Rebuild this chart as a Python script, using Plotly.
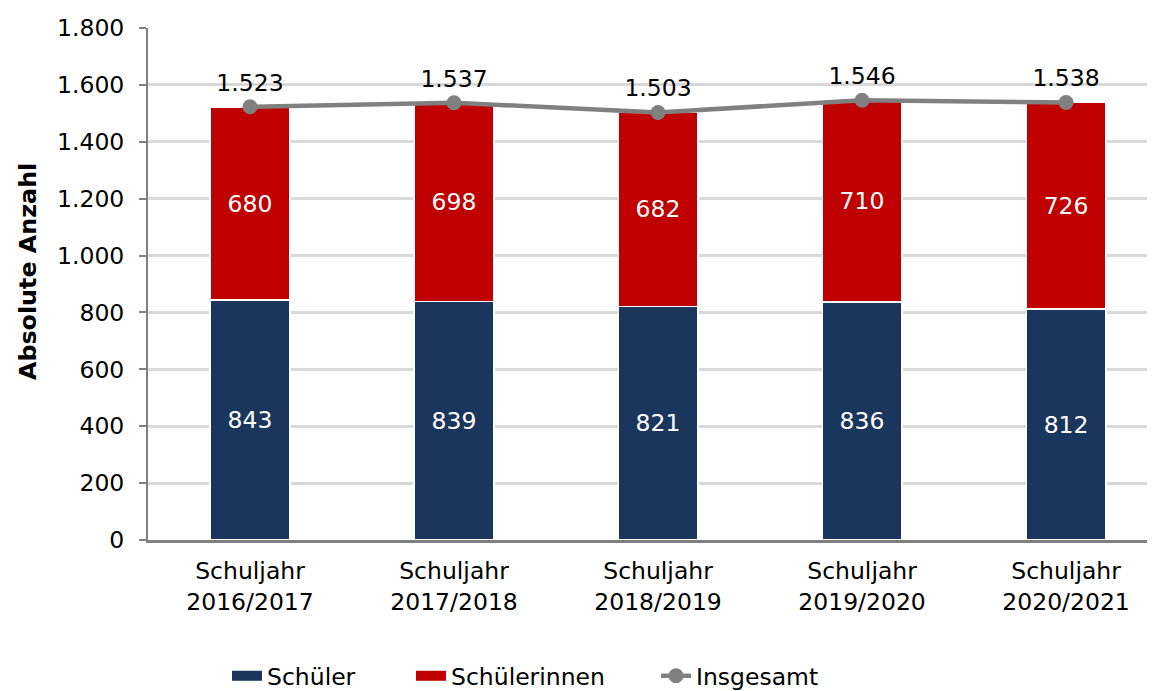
import plotly.graph_objects as go

categories = ["Schuljahr<br>2016/2017", "Schuljahr<br>2017/2018", "Schuljahr<br>2018/2019",
              "Schuljahr<br>2019/2020", "Schuljahr<br>2020/2021"]
schueler = [843, 839, 821, 836, 812]
schuelerinnen = [680, 698, 682, 710, 726]
insgesamt = [1523, 1537, 1503, 1546, 1538]
y_ticks = [0, 200, 400, 600, 800, 1000, 1200, 1400, 1600, 1800]
y_title = "Absolute Anzahl"

FONT = "DejaVu Sans, Verdana, sans-serif"
FS = 23.5
NAVY = "#1B365D"
RED = "#C00000"
GRAY = "#808080"

fig = go.Figure()
fig.add_trace(go.Bar(
    x=categories, y=schueler, name="Schüler", showlegend=False, legendgroup="s",
    marker=dict(color=NAVY, line=dict(color="white", width=1.5)),
    text=schueler, textposition="inside", insidetextanchor="middle",
    textfont=dict(color="white", size=FS, family=FONT),
    width=0.39,
))
fig.add_trace(go.Bar(
    x=categories, y=schuelerinnen, name="Schülerinnen", showlegend=False, legendgroup="w",
    marker=dict(color=RED, line=dict(color="white", width=1.5)),
    text=schuelerinnen, textposition="inside", insidetextanchor="middle",
    textfont=dict(color="white", size=FS, family=FONT),
    width=0.39,
))
fig.add_trace(go.Scatter(
    x=categories, y=insgesamt, name="Insgesamt", legend="legend3",
    mode="lines+markers+text",
    line=dict(color=GRAY, width=4.5),
    marker=dict(color=GRAY, size=15),
    text=insgesamt, texttemplate="%{y:,.0f}", textposition="top center",
    textfont=dict(color="black", size=FS, family=FONT),
))
# legend-only entries drawn as wide rectangles (like the reference legend keys)
fig.add_trace(go.Scatter(x=[None], y=[None], name="Schüler", legendgroup="s", legend="legend",
                         mode="lines", line=dict(color=NAVY, width=11)))
fig.add_trace(go.Scatter(x=[None], y=[None], name="Schülerinnen", legendgroup="w", legend="legend2",
                         mode="lines", line=dict(color=RED, width=11)))

W, H = 1147, 683
ML, MT, MB = 140, 20, 151
plot_h = H - MT - MB
plot_w = W - ML


def lx(px):
    return (px - ML) / plot_w


def ly(py):
    return (H - MB - py) / plot_h


leg_common = dict(orientation="h", xanchor="left", yanchor="middle", y=ly(668),
                  font=dict(size=FS, family=FONT), bgcolor="rgba(0,0,0,0)")

fig.update_layout(
    barmode="stack",
    width=W, height=H,
    separators=",.",
    paper_bgcolor="white", plot_bgcolor="white",
    font=dict(family=FONT, size=FS, color="black"),
    margin=dict(l=ML, r=0, t=MT, b=MB, autoexpand=False),
    legend=dict(x=lx(267 - 48), **leg_common),
    legend2=dict(x=lx(451 - 48), **leg_common),
    legend3=dict(x=lx(696 - 48), **leg_common),
    showlegend=True,
    annotations=[dict(
        text="<b>" + y_title + "</b>", textangle=-90,
        xref="paper", yref="paper", x=lx(20), y=ly(264),
        xanchor="center", yanchor="middle", showarrow=False,
        font=dict(size=23.8, family=FONT, color="black"),
    )],
)
fig.update_xaxes(
    range=[-0.5, 4.436],
    showline=True, linecolor=GRAY, linewidth=3,
    ticks="", showgrid=False, ticklabelstandoff=8,
    tickfont=dict(size=FS, family=FONT),
)
fig.update_yaxes(
    range=[0, 1800], tickvals=y_ticks, tickformat=",d",
    showline=True, linecolor=GRAY, linewidth=2,
    ticks="outside", ticklen=7, tickcolor=GRAY, tickwidth=2,
    showgrid=True, gridcolor="#D9D9D9", gridwidth=2.5,
    zeroline=False, ticklabelstandoff=10,
    tickfont=dict(size=FS, family=FONT),
)

fig.write_html("out.html")
